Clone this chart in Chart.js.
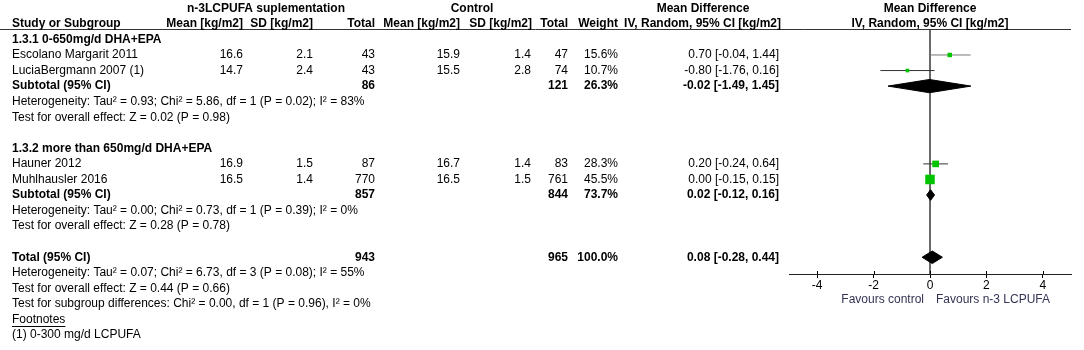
<!DOCTYPE html>
<html>
<head>
<meta charset="utf-8">
<script src="https://cdn.jsdelivr.net/npm/chart.js@4.4.0/dist/chart.umd.min.js"></script>
<style>
body { margin: 0; background: #fff; }
#wrap { width: 1084px; height: 350px; }
</style>
</head>
<body>
<div id="wrap"><canvas id="forest" width="1084" height="350"></canvas></div>
<script>
// Datos de los estudios
const studies = ['Escolano Margarit 2011', 'LuciaBergmann 2007 (1)', 'Hauner 2012', 'Muhlhausler 2016'];
const studyRows = [3, 4, 10, 11];
const expMean = [16.6, 14.7, 16.9, 16.5];
const expSD = [2.1, 2.4, 1.5, 1.4];
const expTotal = [43, 43, 87, 770];
const ctlMean = [15.9, 15.5, 16.7, 16.5];
const ctlSD = [1.4, 2.8, 1.4, 1.5];
const ctlTotal = [47, 74, 83, 761];
const weights = [15.6, 10.7, 28.3, 45.5];
const md = [0.70, -0.80, 0.20, 0.00];
const ciLow = [-0.04, -1.76, -0.24, -0.15];
const ciHigh = [1.44, 0.16, 0.64, 0.15];

// Subgrupos
const groupNames = ['1.3.1 0-650mg/d DHA+EPA', '1.3.2 more than 650mg/d DHA+EPA'];
const groupRows = [2, 9];
const subRows = [5, 12];
const subExpTotal = [86, 857];
const subCtlTotal = [121, 844];
const subWeight = [26.3, 73.7];
const subMd = [-0.02, 0.02];
const subLow = [-1.49, -0.12];
const subHigh = [1.45, 0.16];
const subHet = [
    'Heterogeneity: Tau\u00b2 = 0.93; Chi\u00b2 = 5.86, df = 1 (P = 0.02); I\u00b2 = 83%',
    'Heterogeneity: Tau\u00b2 = 0.00; Chi\u00b2 = 0.73, df = 1 (P = 0.39); I\u00b2 = 0%'
];
const subTest = [
    'Test for overall effect: Z = 0.02 (P = 0.98)',
    'Test for overall effect: Z = 0.28 (P = 0.78)'
];

// Total
const totalRow = 16;
const totalExp = 943;
const totalCtl = 965;
const totalWeight = 100.0;
const totalMd = 0.08;
const totalLow = -0.28;
const totalHigh = 0.44;
const totalNotes = [
    'Heterogeneity: Tau\u00b2 = 0.07; Chi\u00b2 = 6.73, df = 3 (P = 0.08); I\u00b2 = 55%',
    'Test for overall effect: Z = 0.44 (P = 0.66)',
    'Test for subgroup differences: Chi\u00b2 = 0.00, df = 1 (P = 0.96), I\u00b2 = 0%'
];
const footnotes = ['(1) 0-300 mg/d LCPUFA'];

const ticksX = [-4, -2, 0, 2, 4];

// Disposición
const FONT = '"Liberation Sans", Arial, sans-serif';
const FS = 12;
const rowH = 15.56, row0 = 8.3;
const headerY = 30, axisY = 274;
const rowAt = px => (px - row0) / rowH;
const diamondH = 6.3 / rowH;

const fmtCI = (m, lo, hi) => m.toFixed(2) + ' [' + lo.toFixed(2) + ', ' + hi.toFixed(2) + ']';
const squareRadius = w => (w * 0.17 + 1.8) / Math.SQRT2;

function diamond(m, lo, hi, row, h) {
    return [
        { x: lo, y: row }, { x: m, y: row - h }, { x: hi, y: row },
        { x: m, y: row + h }, { x: lo, y: row }
    ];
}

const datasets = [];

// Línea vertical en cero
datasets.push({
    data: [{ x: 0, y: rowAt(headerY) }, { x: 0, y: rowAt(axisY) }],
    showLine: true, borderColor: '#555', borderWidth: 1, pointRadius: 0, order: 3
});

// Intervalos de confianza
studies.forEach((s, i) => {
    datasets.push({
        data: [{ x: ciLow[i], y: studyRows[i] }, { x: ciHigh[i], y: studyRows[i] }],
        showLine: true, borderColor: i === 0 ? '#777' : '#333', borderWidth: 1, pointRadius: 0, order: 2
    });
});

// Cuadrados por peso
datasets.push({
    data: studies.map((s, i) => ({ x: md[i], y: studyRows[i] })),
    pointStyle: 'rect',
    pointRadius: ctx => squareRadius(weights[ctx.dataIndex]),
    backgroundColor: '#00c400', borderWidth: 0, order: 0
});

// Diamantes
subRows.forEach((r, i) => {
    datasets.push({
        data: diamond(subMd[i], subLow[i], subHigh[i], r, i === 0 ? diamondH * 1.05 : diamondH * 0.85),
        showLine: true, fill: 'shape', backgroundColor: '#000', borderColor: '#000',
        borderWidth: 1, pointRadius: 0, tension: 0, order: 1
    });
});
datasets.push({
    data: diamond(totalMd, totalLow, totalHigh, totalRow, diamondH),
    showLine: true, fill: 'shape', backgroundColor: '#000', borderColor: '#000',
    borderWidth: 1, pointRadius: 0, tension: 0, order: 1
});

// Texto de la tabla
const tablePlugin = {
    id: 'tabla',
    afterDraw(chart) {
        const ctx = chart.ctx;
        const y = chart.scales.y;
        const x = chart.scales.x;
        const txt = (s, px, row, align, bold, color) => {
            ctx.font = (bold ? 'bold ' : '') + FS + 'px ' + FONT;
            ctx.fillStyle = color || '#000';
            ctx.textAlign = align || 'left';
            ctx.textBaseline = 'middle';
            ctx.fillText(s, px, y.getPixelForValue(row));
        };
        ctx.save();

        // línea del encabezado
        ctx.strokeStyle = '#333';
        ctx.lineWidth = 1;
        ctx.beginPath();
        ctx.moveTo(0, headerY - 0.5);
        ctx.lineTo(chart.chartArea.right, headerY - 0.5);
        ctx.stroke();

        // marcas del eje por encima de la línea
        ctx.strokeStyle = '#000';
        ticksX.forEach(v => {
            const px = Math.round(x.getPixelForValue(v)) + 0.5;
            ctx.beginPath();
            ctx.moveTo(px, axisY - 3);
            ctx.lineTo(px, axisY);
            ctx.stroke();
        });

        // encabezados
        txt('n-3LCPUFA suplementation', 266, 0, 'center', true);
        txt('Control', 472, 0, 'center', true);
        txt('Mean Difference', 703, 0, 'center', true);
        txt('Mean Difference', x.getPixelForValue(0), 0, 'center', true);
        txt('Study or Subgroup', 12, 1, 'left', true);
        txt('Mean [kg/m2]', 243, 1, 'right', true);
        txt('SD [kg/m2]', 313, 1, 'right', true);
        txt('Total', 375, 1, 'right', true);
        txt('Mean [kg/m2]', 460, 1, 'right', true);
        txt('SD [kg/m2]', 532, 1, 'right', true);
        txt('Total', 568, 1, 'right', true);
        txt('Weight', 618, 1, 'right', true);
        txt('IV, Random, 95% CI [kg/m2]', 781, 1, 'right', true);
        txt('IV, Random, 95% CI [kg/m2]', x.getPixelForValue(0), 1, 'center', true);

        // subgrupos
        groupNames.forEach((g, i) => {
            txt(g, 12, groupRows[i], 'left', true);
            txt('Subtotal (95% CI)', 12, subRows[i], 'left', true);
            txt(String(subExpTotal[i]), 375, subRows[i], 'right', true);
            txt(String(subCtlTotal[i]), 568, subRows[i], 'right', true);
            txt(subWeight[i].toFixed(1) + '%', 618, subRows[i], 'right', true);
            txt(fmtCI(subMd[i], subLow[i], subHigh[i]), 779, subRows[i], 'right', true);
            txt(subHet[i], 12, subRows[i] + 1, 'left');
            txt(subTest[i], 12, subRows[i] + 2, 'left');
        });

        // estudios
        studies.forEach((s, i) => {
            const r = studyRows[i];
            txt(s, 12, r, 'left');
            txt(expMean[i].toFixed(1), 243, r, 'right');
            txt(expSD[i].toFixed(1), 313, r, 'right');
            txt(String(expTotal[i]), 375, r, 'right');
            txt(ctlMean[i].toFixed(1), 460, r, 'right');
            txt(ctlSD[i].toFixed(1), 531, r, 'right');
            txt(String(ctlTotal[i]), 568, r, 'right');
            txt(weights[i].toFixed(1) + '%', 618, r, 'right');
            txt(fmtCI(md[i], ciLow[i], ciHigh[i]), 779, r, 'right');
        });

        // total
        txt('Total (95% CI)', 12, totalRow, 'left', true);
        txt(String(totalExp), 375, totalRow, 'right', true);
        txt(String(totalCtl), 568, totalRow, 'right', true);
        txt(totalWeight.toFixed(1) + '%', 618, totalRow, 'right', true);
        txt(fmtCI(totalMd, totalLow, totalHigh), 779, totalRow, 'right', true);
        totalNotes.forEach((n, i) => txt(n, 12, totalRow + 1 + i, 'left'));

        // notas al pie
        const fr = totalRow + 1 + totalNotes.length;
        txt('Footnotes', 12, fr, 'left');
        ctx.font = FS + 'px ' + FONT;
        const w = ctx.measureText('Footnotes').width;
        const fy = Math.round(y.getPixelForValue(fr)) + 6.5;
        ctx.strokeStyle = '#000';
        ctx.beginPath();
        ctx.moveTo(12, fy);
        ctx.lineTo(12 + w, fy);
        ctx.stroke();
        footnotes.forEach((f, i) => txt(f, 12, fr + 1 + i, 'left'));

        // etiquetas de dirección
        const zx = x.getPixelForValue(0);
        ctx.font = FS + 'px ' + FONT;
        ctx.fillStyle = '#333355';
        ctx.textBaseline = 'middle';
        ctx.textAlign = 'right';
        ctx.fillText('Favours control', zx - 6, axisY + 26);
        ctx.textAlign = 'left';
        ctx.fillText('Favours n-3 LCPUFA', zx + 6, axisY + 26);

        ctx.restore();
    }
};

const chart = new Chart(document.getElementById('forest').getContext('2d'), {
    type: 'scatter',
    data: { datasets: datasets },
    options: {
        responsive: false,
        animation: false,
        events: [],
        layout: { padding: { left: 789, right: 13, top: headerY, bottom: 0 } },
        plugins: { legend: { display: false }, tooltip: { enabled: false } },
        scales: {
            x: {
                type: 'linear',
                position: 'bottom',
                min: -5,
                max: 5,
                afterBuildTicks: s => { s.ticks = ticksX.map(v => ({ value: v })); },
                afterFit: s => { s.height = 350 - axisY; },
                grid: { drawOnChartArea: false, drawTicks: true, tickLength: 4, color: '#000' },
                border: { color: '#222', width: 1 },
                ticks: { font: { family: FONT, size: FS }, color: '#000', padding: 0, maxRotation: 0 }
            },
            y: {
                type: 'linear',
                display: false,
                reverse: true,
                min: rowAt(headerY),
                max: rowAt(axisY)
            }
        }
    },
    plugins: [tablePlugin]
});
</script>
</body>
</html>
